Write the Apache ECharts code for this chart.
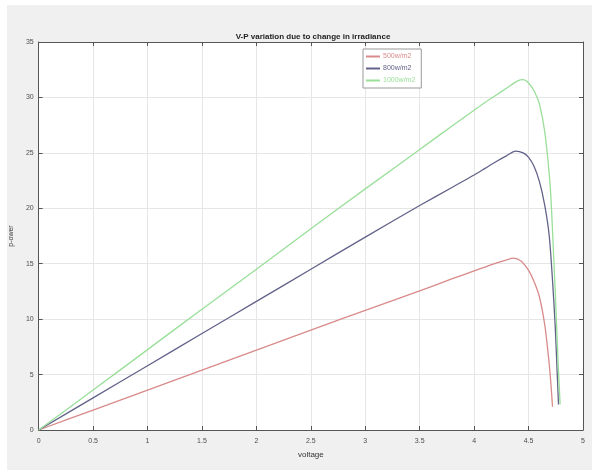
<!DOCTYPE html>
<html>
<head>
<meta charset="utf-8">
<script src="https://cdn.jsdelivr.net/npm/echarts@6/dist/echarts.min.js"></script>
<style>
  html, body { margin: 0; padding: 0; background: #fff; }
  #main { width: 592px; height: 470px; }
</style>
</head>
<body>
<div id="main"></div>
<script>
// V-P curves: [voltage, power]
var irr500 = [[0, 0], [0.5, 1.8], [1, 3.6], [1.5, 5.4], [2, 7.2], [2.5, 9.0], [3, 10.8], [3.5, 12.55],
    [3.8, 13.65], [4.0, 14.35], [4.1, 14.7], [4.2, 15.05], [4.3, 15.35], [4.36, 15.5], [4.43, 15.25], [4.5, 14.4],
    [4.55, 13.4], [4.6, 12.0], [4.65, 9.4], [4.685, 6.4], [4.705, 4.2], [4.72, 2.1]];
var irr800 = [[0, 0], [0.5, 2.9], [1, 5.8], [1.5, 8.7], [2, 11.6], [2.5, 14.5], [3, 17.4], [3.5, 20.25],
    [3.8, 21.9], [4.0, 23.0], [4.1, 23.6], [4.2, 24.2], [4.3, 24.75], [4.38, 25.15], [4.45, 25.0], [4.5, 24.6],
    [4.55, 23.8], [4.6, 22.4], [4.65, 20.2], [4.69, 17.5], [4.72, 13.5], [4.745, 9.3], [4.76, 5.8], [4.775, 2.3]];
var irr1000 = [[0, 0], [0.5, 3.6], [1, 7.25], [1.5, 10.9], [2, 14.5], [2.5, 18.15], [3, 21.75], [3.5, 25.3],
    [3.8, 27.45], [4.0, 28.85], [4.1, 29.55], [4.2, 30.2], [4.3, 30.85], [4.4, 31.5], [4.45, 31.6], [4.5, 31.3],
    [4.55, 30.6], [4.6, 29.4], [4.65, 26.8], [4.7, 21.8], [4.73, 15.8], [4.75, 11.3], [4.77, 6.4], [4.79, 2.3]];
var names = ['500w/m2', '800w/m2', '1000w/m2'];
var colors = ['#d98a8a', '#62628a', '#99df99'];

var axisFont = { fontFamily: 'Liberation Sans', fontSize: 7, color: '#4d4d4d' };

function lineSeries(name, data, color) {
    return {
        name: name,
        type: 'line',
        data: data,
        showSymbol: false,
        smooth: 0.25,
        lineStyle: { width: 1.3, color: color },
        itemStyle: { color: color }
    };
}

var option = {
    backgroundColor: '#f0f0f0',
    animation: false,
    title: {
        text: 'V-P variation due to change in irradiance',
        left: 308,
        textAlign: 'center',
        top: 28,
        textStyle: { fontFamily: 'Liberation Sans', fontSize: 8, fontWeight: 'bold', color: '#222' }
    },
    graphic: [
        { type: 'rect', shape: { x: 0, y: 0, width: 7, height: 470 }, style: { fill: '#fff' }, silent: true },
        { type: 'rect', shape: { x: 0, y: 0, width: 592, height: 5 }, style: { fill: '#fff' }, silent: true }
    ],
    legend: {
        orient: 'vertical',
        left: 363,
        top: 49,
        itemWidth: 14,
        itemHeight: 2,
        itemGap: 5,
        padding: [4, 6, 4, 3],
        backgroundColor: '#fff',
        borderColor: '#999',
        borderWidth: 1,
        borderRadius: 0,
        icon: 'rect',
        data: names.map(function (n, i) {
            return { name: n, textStyle: { color: colors[i] } };
        }),
        textStyle: { fontFamily: 'Liberation Sans', fontSize: 7, padding: [0, 0, 0, -2] }
    },
    grid: {
        left: 33, right: 9, top: 42, bottom: 40,
        show: true, backgroundColor: '#fff', borderWidth: 0
    },
    xAxis: [{
        type: 'value',
        min: 0, max: 5, interval: 0.5,
        name: 'voltage',
        nameLocation: 'middle',
        nameGap: 21,
        nameTextStyle: { fontFamily: 'Liberation Sans', fontSize: 8, color: '#333' },
        axisLine: { lineStyle: { color: '#555', width: 1 } },
        axisTick: { inside: true, length: 4, lineStyle: { color: '#555' } },
        axisLabel: axisFont,
        splitLine: { lineStyle: { color: '#e6e6e6', width: 1 } }
    }, {
        type: 'value', position: 'top',
        min: 0, max: 5, interval: 0.5,
        axisLine: { show: true, onZero: false, lineStyle: { color: '#555', width: 1 } },
        axisTick: { inside: true, length: 4, lineStyle: { color: '#555' } },
        axisLabel: { show: false },
        splitLine: { show: false }
    }],
    yAxis: [{
        type: 'value',
        min: 0, max: 35, interval: 5,
        name: 'p-ower',
        nameLocation: 'middle',
        nameGap: 17,
        nameTextStyle: { fontFamily: 'Liberation Sans', fontSize: 7, color: '#333' },
        axisLine: { show: true, lineStyle: { color: '#555', width: 1 } },
        axisTick: { show: true, inside: true, length: 4, lineStyle: { color: '#555' } },
        axisLabel: Object.assign({ margin: 5 }, axisFont),
        splitLine: { lineStyle: { color: '#e6e6e6', width: 1 } }
    }, {
        type: 'value', position: 'right',
        min: 0, max: 35, interval: 5,
        axisLine: { show: true, onZero: false, lineStyle: { color: '#555', width: 1 } },
        axisTick: { show: true, inside: true, length: 4, lineStyle: { color: '#555' } },
        axisLabel: { show: false },
        splitLine: { show: false }
    }],
    series: [
        lineSeries(names[0], irr500, colors[0]),
        lineSeries(names[1], irr800, colors[1]),
        lineSeries(names[2], irr1000, colors[2])
    ]
};

var chart = echarts.init(document.getElementById('main'));
chart.setOption(option);
</script>
</body>
</html>
